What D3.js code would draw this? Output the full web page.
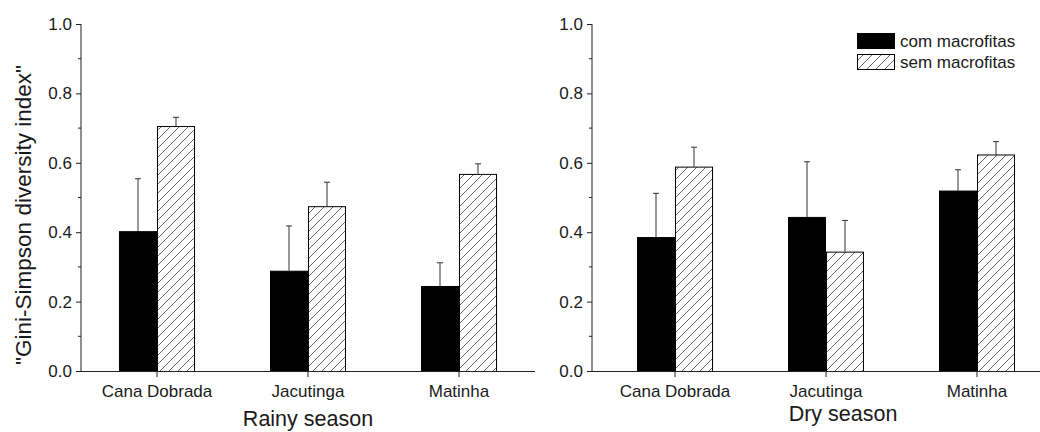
<!DOCTYPE html>
<html><head><meta charset="utf-8">
<script src="https://cdn.jsdelivr.net/npm/d3@7"></script>
<style>
body{margin:0;background:#fff;}
text{font-family:"Liberation Sans",Arial,sans-serif;fill:#1a1a1a;}
</style></head><body>
<svg id="c" width="1040" height="432"></svg>
<script>
const categories = ["Cana Dobrada", "Jacutinga", "Matinha"];
const seriesNames = ["com macrofitas", "sem macrofitas"];
const rainyCom = [0.403, 0.289, 0.245];
const rainyComErr = [0.151, 0.129, 0.067];
const rainySem = [0.706, 0.475, 0.568];
const rainySemErr = [0.025, 0.069, 0.029];
const dryCom = [0.386, 0.444, 0.520];
const dryComErr = [0.126, 0.159, 0.060];
const drySem = [0.589, 0.344, 0.624];
const drySemErr = [0.056, 0.090, 0.037];
const majorTicks = [0, 0.2, 0.4, 0.6, 0.8, 1.0];
const minorTicks = [0.1, 0.3, 0.5, 0.7, 0.9];
const yLabel = '"Gini-Simpson diversity index"';

const svg = d3.select("#c");
const defs = svg.append("defs");
const pat = defs.append("pattern").attr("id","hatch").attr("patternUnits","userSpaceOnUse")
  .attr("width",9).attr("height",9);
pat.append("rect").attr("width",9).attr("height",9).attr("fill","#fff");
pat.append("path").attr("d","M-2,2 l4,-4 M0,9 l9,-9 M7,11 l4,-4")
  .attr("stroke","#555").attr("stroke-width",0.9);

const y = d3.scaleLinear().domain([0,1]).range([371,24]);
const barW = 38;

function panel(axisX, axisEnd, firstC, lastC, com, comErr, sem, semErr, title, titleX, titleY, showYLabel){
  const g = svg.append("g");
  const x = d3.scalePoint().domain(categories).range([firstC, lastC]);
  const ya = g.append("g").attr("transform",`translate(${axisX},0)`)
    .call(d3.axisLeft(y).tickValues(majorTicks).tickSize(5).tickPadding(4).tickFormat(d3.format(".1f")));
  ya.select(".domain").attr("stroke","#222").attr("d",`M0,${y(0)}V${y(1)}`);
  ya.selectAll(".tick line").attr("stroke","#222");
  ya.selectAll(".tick text").attr("font-size",17).attr("font-family","Liberation Sans, Arial").attr("fill","#1a1a1a");
  g.selectAll(".minor").data(minorTicks).enter().append("line")
    .attr("x1",axisX-3).attr("x2",axisX).attr("y1",d=>y(d)).attr("y2",d=>y(d)).attr("stroke","#222");
  const sets = [{v:com,e:comErr,off:-barW,fill:"#000"},{v:sem,e:semErr,off:0,fill:"url(#hatch)"}];
  sets.forEach(s=>{
    g.selectAll(null).data(categories).enter().append("line")
      .attr("x1",(d)=>x(d)+s.off+barW/2).attr("x2",(d)=>x(d)+s.off+barW/2)
      .attr("y1",(d,i)=>y(s.v[i])).attr("y2",(d,i)=>y(s.v[i]+s.e[i])).attr("stroke","#333").attr("stroke-width",1);
    g.selectAll(null).data(categories).enter().append("line")
      .attr("x1",(d)=>x(d)+s.off+barW/2-3).attr("x2",(d)=>x(d)+s.off+barW/2+3)
      .attr("y1",(d,i)=>y(s.v[i]+s.e[i])).attr("y2",(d,i)=>y(s.v[i]+s.e[i])).attr("stroke","#333").attr("stroke-width",1);
    g.selectAll(null).data(categories).enter().append("rect")
      .attr("x",d=>x(d)+s.off+0.5).attr("width",barW-1)
      .attr("y",(d,i)=>y(s.v[i])+0.5).attr("height",(d,i)=>y(0)-y(s.v[i]))
      .attr("fill",s.fill).attr("stroke","#000").attr("stroke-width",1);
  });
  g.append("line").attr("x1",axisX).attr("x2",axisEnd).attr("y1",y(0)+0.5).attr("y2",y(0)+0.5).attr("stroke","#222");
  g.selectAll(".xt").data(categories).enter().append("line")
    .attr("x1",d=>x(d)).attr("x2",d=>x(d)).attr("y1",y(0)).attr("y2",y(0)+6).attr("stroke","#222");
  g.selectAll(".xl").data(categories).enter().append("text")
    .attr("x",d=>x(d)).attr("y",397).attr("text-anchor","middle").attr("font-size",17).text(d=>d);
  g.append("text").attr("x",titleX).attr("y",titleY).attr("text-anchor","middle").attr("font-size",21.5).text(title);
  if(showYLabel){
    g.append("text").attr("transform",`translate(31,215) rotate(-90)`).attr("text-anchor","middle")
      .attr("font-size",22.5).text(yLabel);
  }
}

panel(81, 535, 157, 459, rainyCom, rainyComErr, rainySem, rainySemErr, "Rainy season", 308, 426, true);
panel(592, 1040, 675, 977, dryCom, dryComErr, drySem, drySemErr, "Dry season", 843, 421, false);

const lg = svg.append("g");
const fills = ["#000","url(#hatch)"];
lg.selectAll("rect").data(seriesNames).enter().append("rect")
  .attr("x",857.5).attr("y",(d,i)=>33.5+i*21).attr("width",37).attr("height",15)
  .attr("fill",(d,i)=>fills[i]).attr("stroke","#000");
lg.selectAll("text").data(seriesNames).enter().append("text")
  .attr("x",900).attr("y",(d,i)=>47+i*21).attr("font-size",17).text(d=>d);
</script></body></html>
